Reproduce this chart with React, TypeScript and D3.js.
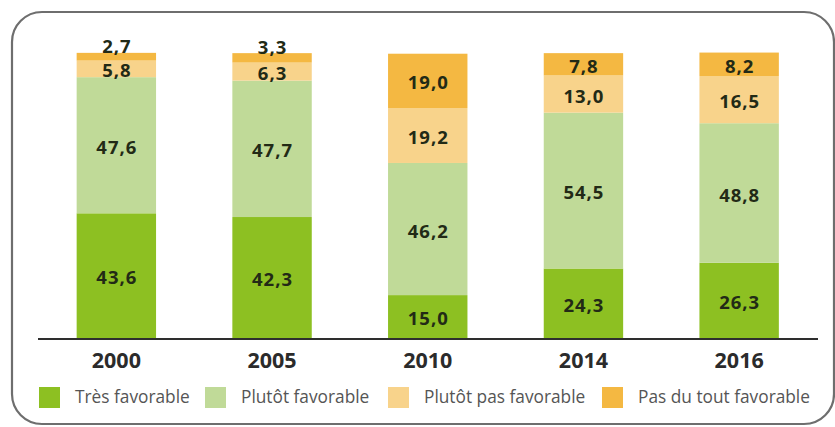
import React from "react";
import * as d3 from "d3";

const years = ["2000", "2005", "2010", "2014", "2016"];
const tresFavorable = [43.6, 42.3, 15.0, 24.3, 26.3];
const plutotFavorable = [47.6, 47.7, 46.2, 54.5, 48.8];
const plutotPasFavorable = [5.8, 6.3, 19.2, 13.0, 16.5];
const pasDuToutFavorable = [2.7, 3.3, 19.0, 7.8, 8.2];

const seriesNames = ["Très favorable", "Plutôt favorable", "Plutôt pas favorable", "Pas du tout favorable"];
const seriesColors = ["#8dc022", "#c0da98", "#f8d38b", "#f4b842"];
const legendX = [39, 205, 388, 602];

const W = 835;
const H = 427;

export default function App() {
  const keys = ["s0", "s1", "s2", "s3"];
  const table = years.map((y, i) => ({
    year: y,
    s0: tresFavorable[i],
    s1: plutotFavorable[i],
    s2: plutotPasFavorable[i],
    s3: pasDuToutFavorable[i],
  }));
  const stack = d3.stack<any>().keys(keys)(table);

  const x = d3.scaleBand<string>().domain(years).range([38.5, 817]).paddingInner(0.49).paddingOuter(0.245);
  const y = d3.scaleLinear().domain([0, 100]).range([338, 52]);

  const fmt = (v: number) => v.toFixed(1).replace(".", ",");
  const labelFont = 18.5;

  return (
    <div style={{ position: "fixed", left: 0, top: 0, width: W, height: H, background: "#fff" }}>
      <svg width={W} height={H} style={{ display: "block" }}>
        <rect x={12} y={12} width={822} height={412} rx={30} ry={30} fill="#fff" stroke="#6e6e6e" strokeWidth={2.2} />
        {stack.map((layer, si) => (
          <g key={si}>
            {layer.map((d, i) => {
              const x0 = x(years[i]) as number;
              const bw = x.bandwidth();
              const yTop = y(d[1]);
              const yBot = y(d[0]);
              const v = d[1] - d[0];
              const cx = x0 + bw / 2;
              let baseline: number;
              if (v < 4) {
                baseline = yTop + 0.5;
              } else {
                baseline = (yTop + yBot) / 2 + labelFont * 0.357 + 2;
              }
              return (
                <g key={i}>
                  <rect x={x0} y={yTop} width={bw} height={yBot - yTop} fill={seriesColors[si]} />
                  <text
                    x={cx + 0.5}
                    y={baseline}
                    textAnchor="middle"
                    fontFamily="'Open Sans', sans-serif"
                    fontWeight={700}
                    fontSize={labelFont}
                    letterSpacing={1}
                    fill="#222a16"
                  >
                    {fmt(v)}
                  </text>
                </g>
              );
            })}
          </g>
        ))}
        <line x1={38} x2={818} y1={339} y2={339} stroke="#2e2e2e" strokeWidth={2.2} />
        {years.map((yr) => (
          <text
            key={yr}
            x={(x(yr) as number) + x.bandwidth() / 2}
            y={368}
            textAnchor="middle"
            fontFamily="'Open Sans', sans-serif"
            fontWeight={700}
            fontSize={21.5}
            fill="#2b2b2b"
          >
            {yr}
          </text>
        ))}
        {seriesNames.map((name, i) => (
          <g key={name}>
            <rect x={legendX[i]} y={387} width={21} height={21} fill={seriesColors[i]} />
            <text
              x={legendX[i] + 36}
              y={403}
              fontFamily="'Open Sans', sans-serif"
              fontSize={17.3}
              fill="#555"
            >
              {name}
            </text>
          </g>
        ))}
      </svg>
    </div>
  );
}
